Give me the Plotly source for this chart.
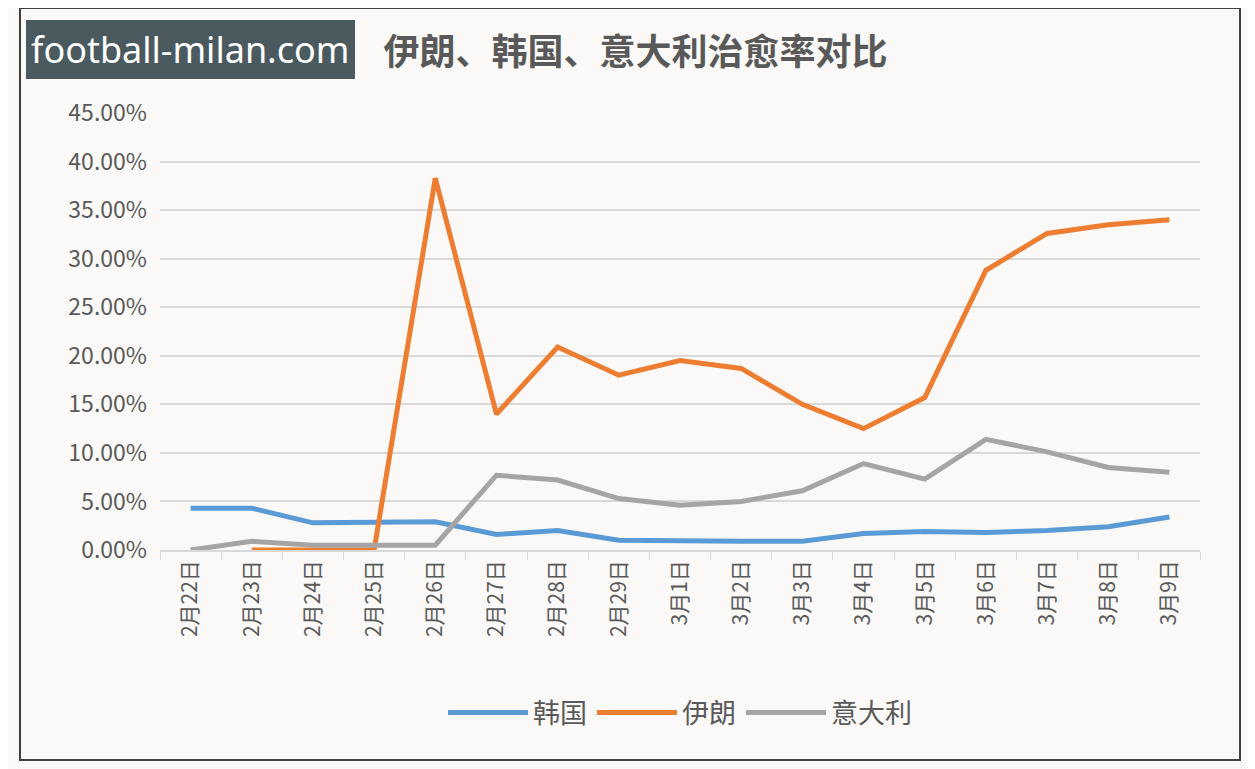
import plotly.graph_objects as go

dates = ["2月22日","2月23日","2月24日","2月25日","2月26日","2月27日","2月28日","2月29日",
         "3月1日","3月2日","3月3日","3月4日","3月5日","3月6日","3月7日","3月8日","3月9日"]
korea = [4.3,4.3,2.8,2.8,2.9,1.6,2.0,1.0,0.9,0.9,0.9,1.7,1.9,1.8,2.0,2.4,3.4]
iran = [None,0,0,0,38.3,14.0,20.9,18.0,19.5,18.7,15.0,12.5,15.7,28.8,32.6,33.5,34.0]
italy = [0,0.9,0.5,0.5,0.5,7.7,7.2,5.3,4.6,5.0,6.1,8.9,7.3,11.4,10.1,8.5,8.0]
yticks = [0,5,10,15,20,25,30,35,40,45]

fig = go.Figure()
for name, vals, col in [("韩国", korea, "#5b9bd5"), ("伊朗", iran, "#ed7d31"), ("意大利", italy, "#a5a5a5")]:
    fig.add_trace(go.Scatter(x=dates, y=[v/100 if v is not None else None for v in vals],
                             name=name, mode="lines", line=dict(color=col, width=5)))

L, R, T, B = 152, 63, 105, 227
pw, ph = 1255 - L - R, 769 - T - B
def px(x): return (x - L) / pw
def py(y): return (769 - B - y) / ph

fig.update_layout(
    width=1255, height=769, paper_bgcolor="#fbf9f8", plot_bgcolor="#fbf9f8",
    margin=dict(l=L, r=R, t=T, b=B),
    font=dict(family="Noto Sans CJK SC", color="#595959"),
    title=dict(text="<b>伊朗、韩国、意大利治愈率对比</b>", x=0.5, xanchor="center", y=1 - 44/769, yanchor="middle",
               font=dict(size=36, color="#595959")),
    xaxis=dict(tickangle=-90, tickfont=dict(size=21), showgrid=False, showline=True, range=[-0.5, 16.5],
               tickson="boundaries", linecolor="#d9d9d9", linewidth=1.5, ticks="outside",
               tickcolor="#d9d9d9", ticklen=8),
    yaxis=dict(range=[0, 0.45], tickvals=[t/100 for t in yticks], tickformat=".2%",
               tickfont=dict(size=23), gridcolor="#d9d9d9", gridwidth=1.5, zeroline=False,
               ticklabelstandoff=12),
    legend=dict(orientation="h", x=0.5, xanchor="center", y=py(705), yanchor="middle",
                font=dict(size=27), itemwidth=80),
    shapes=[dict(type="rect", xref="paper", yref="paper", x0=px(12), x1=px(1232),
                 y0=py(752), y1=py(0), line=dict(color="#404040", width=2))],
    annotations=[dict(text="football-milan.com", xref="paper", yref="paper",
                      x=px(18), y=py(42), xanchor="left", yanchor="middle",
                      showarrow=False, bgcolor="#4a5a5e", bordercolor="#4a5a5e",
                      font=dict(size=36, color="white", family="Noto Sans"), borderpad=4)],
)
fig.write_html("out.html")
